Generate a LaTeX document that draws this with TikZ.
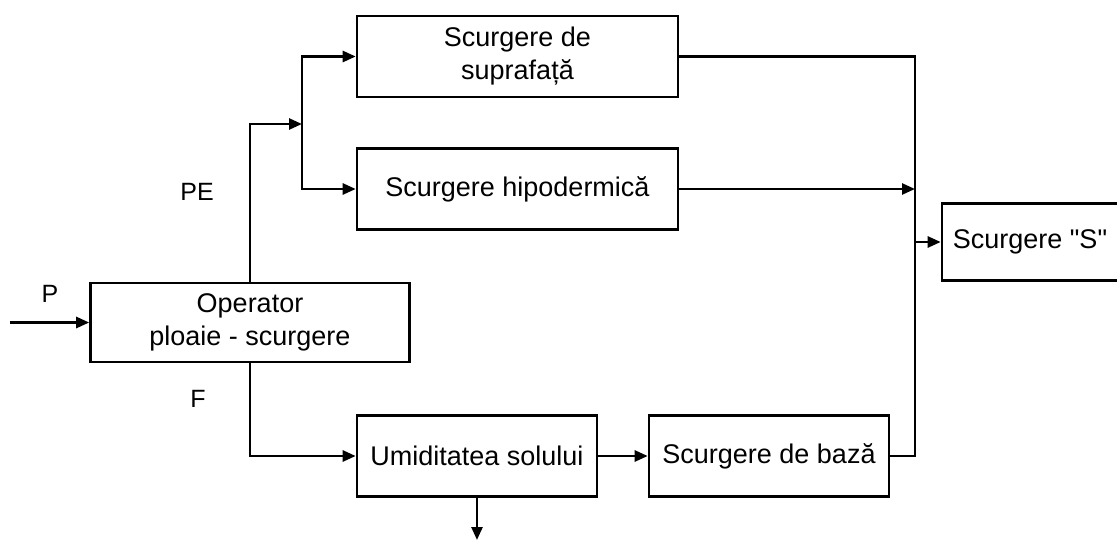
\documentclass[tikz,border=0pt]{standalone}
\usepackage{fontspec}
\setmainfont{Liberation Sans}[Ligatures=TeXReset]
\usetikzlibrary{arrows.meta}
\tikzset{
  blk/.style={draw, line width=2.6pt, inner sep=0pt, align=center,
    font=\fontsize{27}{33}\selectfont},
  lbl/.style={inner sep=0pt, font=\fontsize{25}{30}\selectfont},
  wire/.style={line width=2.6pt},
  arr/.style={wire, -{Triangle[length=13pt,width=11pt]}}
}
\begin{document}
\begin{tikzpicture}[x=1pt,y=-1pt]
\useasboundingbox (0,0) rectangle (1117,541);
% boxes
\node[blk, minimum width=319pt, minimum height=79pt] (op) at (250,322.5) {Operator\\ploaie - scurgere};
\node[blk, minimum width=321pt, minimum height=81pt] (surf) at (517.5,56.5) {Scurgere de\\suprafață};
\node[blk, minimum width=321pt, minimum height=81pt] (hip) at (517.5,189) {Scurgere hipodermică};
\node[blk, minimum width=180pt, minimum height=77pt] (S) at (1032,242) {\hspace*{-2pt}Scurgere "S"\hspace*{2pt}};
\node[blk, minimum width=240pt, minimum height=81pt] (umid) at (477,456) {Umiditatea solului};
\node[blk, minimum width=240pt, minimum height=81pt] (base) at (769,456) {Scurgere de bază};
% labels
\node[lbl] (lP) at (50,294) {P};
\node[lbl] (lPE) at (197,192) {PE};
\node[lbl] (lF) at (198,399) {F};
% coordinates
\coordinate (in) at (10,322.5);
\coordinate (j1) at (302,124);
\coordinate (jr) at (915,242);
\coordinate (out) at (477,540);
% connectors
\draw[arr] (in) -- (op.west);
\draw[arr] (op.north) |- (j1);
\draw[arr] (j1) |- (surf.west);
\draw[arr] (j1) |- (hip.west);
\draw[wire] (surf.east) -| (jr);
\draw[wire] (base.east) -| (jr);
\draw[arr] (hip.east) -- (hip.east -| jr);
\draw[arr] (jr) -- (S.west);
\draw[arr] (op.south) |- (umid.west);
\draw[arr] (umid) -- (base);
\draw[arr] (umid.south) -- (out);
\end{tikzpicture}
\end{document}
